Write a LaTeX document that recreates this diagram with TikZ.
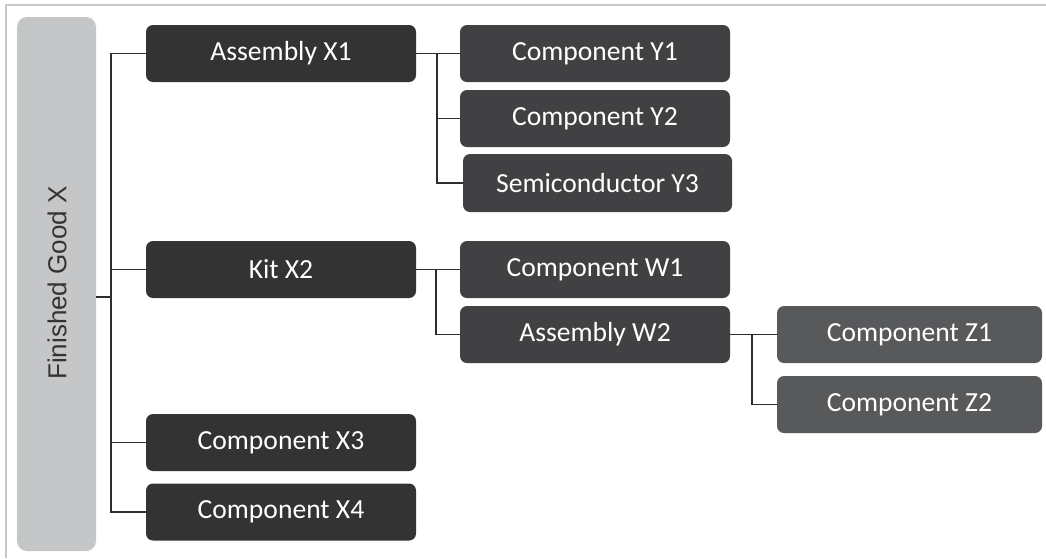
\documentclass[tikz,border=0pt]{standalone}
\usepackage{fontspec}
\setmainfont{Carlito}
\newfontfamily\barfont{Liberation Sans}
\usepackage{tikz}
\usetikzlibrary{positioning}
\definecolor{FrameGray}{RGB}{200, 200, 200}
\definecolor{BarGray}{RGB}{197, 198, 200}
\definecolor{LevelOne}{RGB}{51, 51, 51}
\definecolor{LevelTwo}{RGB}{65, 65, 67}
\definecolor{LevelThree}{RGB}{88, 89, 91}
\definecolor{LinkGray}{RGB}{45, 45, 45}

\begin{document}
\begin{tikzpicture}[x=1pt, y=-1pt,
    part/.style={rectangle, rounded corners=7pt, text=white, inner sep=0pt,
      minimum width=270pt, minimum height=57pt,
      font=\fontsize{27.6}{30}\selectfont},
    link/.style={LinkGray, line width=1.2pt}]
    \useasboundingbox (0,0) rectangle (1046,558);

    % Frame
    \draw[FrameGray, line width=2.2pt] (6,558) -- (6,5) -- (1046,5);

    % Finished good
    \node[fill=BarGray, rounded corners=10pt, minimum width=79pt, minimum height=534pt,
      inner sep=0pt] (fgx) at (56.5, 284) {};
    \node[rotate=90, text=LevelOne, font=\barfont\fontsize{26}{30}\selectfont]
      (fgxlabel) at (57, 283) {Finished Good X};

    % Level one
    \node[part, fill=LevelOne] (ax1) at (281, 53.5) {Assembly X1};
    \node[part, fill=LevelOne] (kx2) at (281, 269.5) {Kit X2};
    \node[part, fill=LevelOne] (cx3) at (281, 442.5) {Component X3};
    \node[part, fill=LevelOne] (cx4) at (281, 512) {Component X4};

    % Level two
    \node[part, fill=LevelTwo] (cy1) at (595, 53.5) {Component Y1};
    \node[part, fill=LevelTwo] (cy2) at (595, 118.5) {Component Y2};
    \node[part, fill=LevelTwo, minimum width=269pt, minimum height=58pt]
      (sy3) at (597.5, 183) {Semiconductor Y3};
    \node[part, fill=LevelTwo] (cw1) at (595, 269.5) {Component W1};
    \node[part, fill=LevelTwo] (aw2) at (595, 334.5) {Assembly W2};

    % Level three
    \node[part, fill=LevelThree, minimum width=265pt] (cz1) at (909.5, 334.5) {Component Z1};
    \node[part, fill=LevelThree, minimum width=265pt] (cz2) at (909.5, 404.5) {Component Z2};

    % Branch points
    \coordinate (j0) at (111, 297);
    \coordinate (j1) at (437, 53.5);
    \coordinate (j2) at (436, 269.5);
    \coordinate (j3) at (752, 334.5);

    % Links from finished good
    \draw[link] (fgx.east |- j0) -- (j0);
    \draw[link] (ax1.west) -- (ax1.west -| j0) -- (cx4.west -| j0) -- (cx4.west);
    \draw[link] (kx2.west) -- (kx2.west -| j0);
    \draw[link] (cx3.west) -- (cx3.west -| j0);

    % Links from Assembly X1
    \draw[link] (ax1.east) -- (cy1.west);
    \draw[link] (j1) |- (sy3.west);
    \draw[link] (cy2.west) -- (cy2.west -| j1);

    % Links from Kit X2
    \draw[link] (kx2.east) -- (cw1.west);
    \draw[link] (j2) |- (aw2.west);

    % Links from Assembly W2
    \draw[link] (aw2.east) -- (cz1.west);
    \draw[link] (j3) |- (cz2.west);
  \end{tikzpicture}
\end{document}
